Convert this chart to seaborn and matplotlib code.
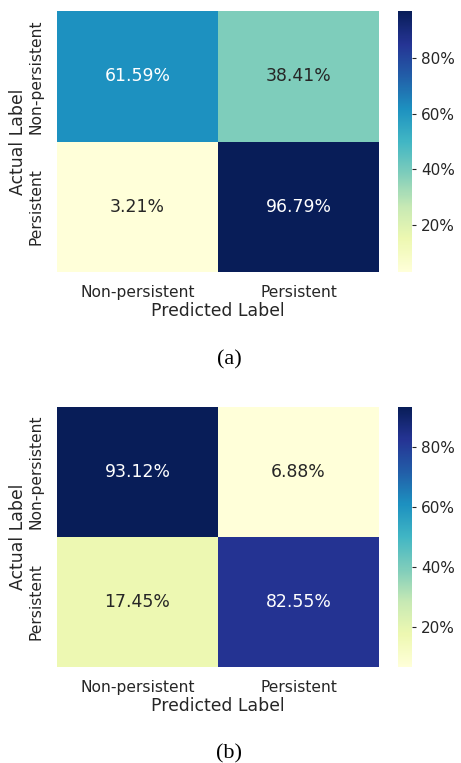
import numpy as np
import pandas as pd
import matplotlib
matplotlib.use('Agg')
import matplotlib.pyplot as plt
import seaborn as sns
from matplotlib.ticker import PercentFormatter

# confusion matrices, row-normalised (rows = actual, cols = predicted)
class_names = ['Non-persistent', 'Persistent']
cm_a = [[0.6159, 0.3841],
        [0.0321, 0.9679]]
cm_b = [[0.9312, 0.0688],
        [0.1745, 0.8255]]
captions = ['(a)', '(b)']

sns.set_theme(style='white')
plt.rcParams['font.family'] = ['DejaVu Sans']

fig = plt.figure(figsize=(4.61, 7.63), dpi=100)

def draw_cm(cm, ax, cax, caption, cap_y):
    df = pd.DataFrame(cm, index=class_names, columns=class_names)
    sns.heatmap(df, ax=ax, cbar_ax=cax, cmap='YlGnBu', annot=True, fmt='.2%',
                annot_kws={'fontsize': 12.4},
                cbar_kws={'format': PercentFormatter(xmax=1, decimals=0)})
    ax.set_xlabel('Predicted Label', fontsize=12.4, labelpad=1.5)
    ax.set_ylabel('Actual Label', fontsize=12.4, labelpad=1)
    ax.tick_params(axis='x', labelsize=11.2, rotation=0)
    ax.tick_params(axis='y', labelsize=11.2, rotation=90)
    for t in ax.get_yticklabels():
        t.set_va('center')
    cax.tick_params(labelsize=11, length=3, width=0.8, color='.15')
    fig.text(229 / 461, cap_y, caption, ha='center', va='center',
             family='Liberation Serif', fontsize=16, color='black')

ax1 = fig.add_axes([57 / 461, 1 - 272 / 763, 322 / 461, 261 / 763])
cax1 = fig.add_axes([398 / 461, 1 - 272 / 763, 14 / 461, 261 / 763])
ax2 = fig.add_axes([57 / 461, 1 - 667 / 763, 322 / 461, 260 / 763])
cax2 = fig.add_axes([398 / 461, 1 - 667 / 763, 14 / 461, 260 / 763])

draw_cm(cm_a, ax1, cax1, captions[0], 1 - 360 / 763)
draw_cm(cm_b, ax2, cax2, captions[1], 1 - 754 / 763)

fig.savefig('out.png', dpi=100)
